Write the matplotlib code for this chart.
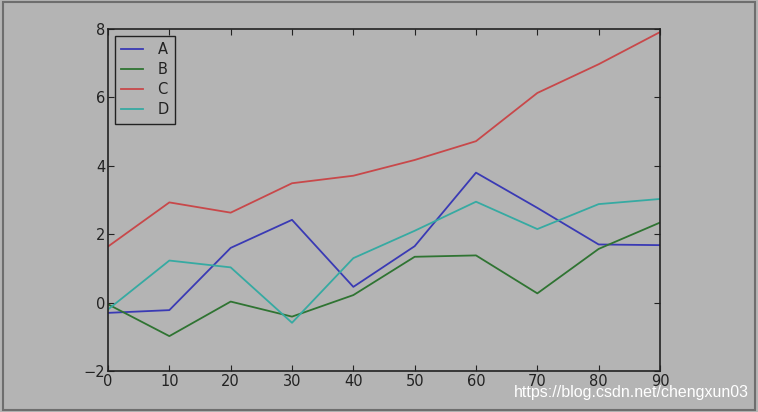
import matplotlib
matplotlib.use("Agg")
import matplotlib.pyplot as plt
from matplotlib.patches import Rectangle

x = [0, 10, 20, 30, 40, 50, 60, 70, 80, 90]
a = [-0.30, -0.22, 1.60, 2.42, 0.46, 1.65, 3.80, 2.77, 1.70, 1.68]
b = [-0.05, -0.98, 0.03, -0.41, 0.22, 1.34, 1.38, 0.27, 1.57, 2.34]
c = [1.64, 2.93, 2.63, 3.49, 3.71, 4.17, 4.72, 6.13, 6.97, 7.91]
d = [-0.20, 1.23, 1.03, -0.59, 1.30, 2.10, 2.95, 2.15, 2.88, 3.03]
labels = ["A", "B", "C", "D"]
colors = ["#3a3ab4", "#2f7432", "#c8484a", "#36aaa2"]

bg = "#b4b4b4"
ink = "#222222"

fig = plt.figure(figsize=(7.58, 4.12), dpi=100, facecolor=bg)
ax = fig.add_axes([0.1425, 0.0995, 0.7282, 0.8301])
ax.set_facecolor(bg)

for ys, lab, col in zip([a, b, c, d], labels, colors):
    ax.plot(x, ys, color=col, lw=1.3, label=lab)

ax.set_xlim(0, 90)
ax.set_ylim(-2, 8)
ax.set_xticks(range(0, 91, 10))
ax.set_yticks(range(-2, 9, 2))
ax.tick_params(direction="in", top=True, right=True, length=4, width=0.8,
               color=ink, labelcolor=ink, labelsize=10.5, pad=2)
for s in ax.spines.values():
    s.set_color(ink)
    s.set_linewidth(1.2)

leg = ax.legend(loc="upper left", fancybox=False, framealpha=1, fontsize=10.5,
                handlelength=1.5, borderpad=0.45, labelspacing=0.35,
                handletextpad=1.0, borderaxespad=0.45)
leg.get_frame().set_facecolor(bg)
leg.get_frame().set_edgecolor(ink)
leg.get_frame().set_linewidth(1.0)
for t in leg.get_texts():
    t.set_color(ink)

# outer frame of the screenshot
fig.patches.append(Rectangle((0.004, 0.006), 0.992, 0.988, transform=fig.transFigure,
                             fill=False, edgecolor="#6e6e6e", lw=1.5))

fig.text(0.988, 0.028, "https://blog.csdn.net/chengxun03", color="white",
         fontsize=11.5, family="Liberation Sans", ha="right", va="bottom")

fig.savefig("out.png", dpi=100, facecolor=bg)
